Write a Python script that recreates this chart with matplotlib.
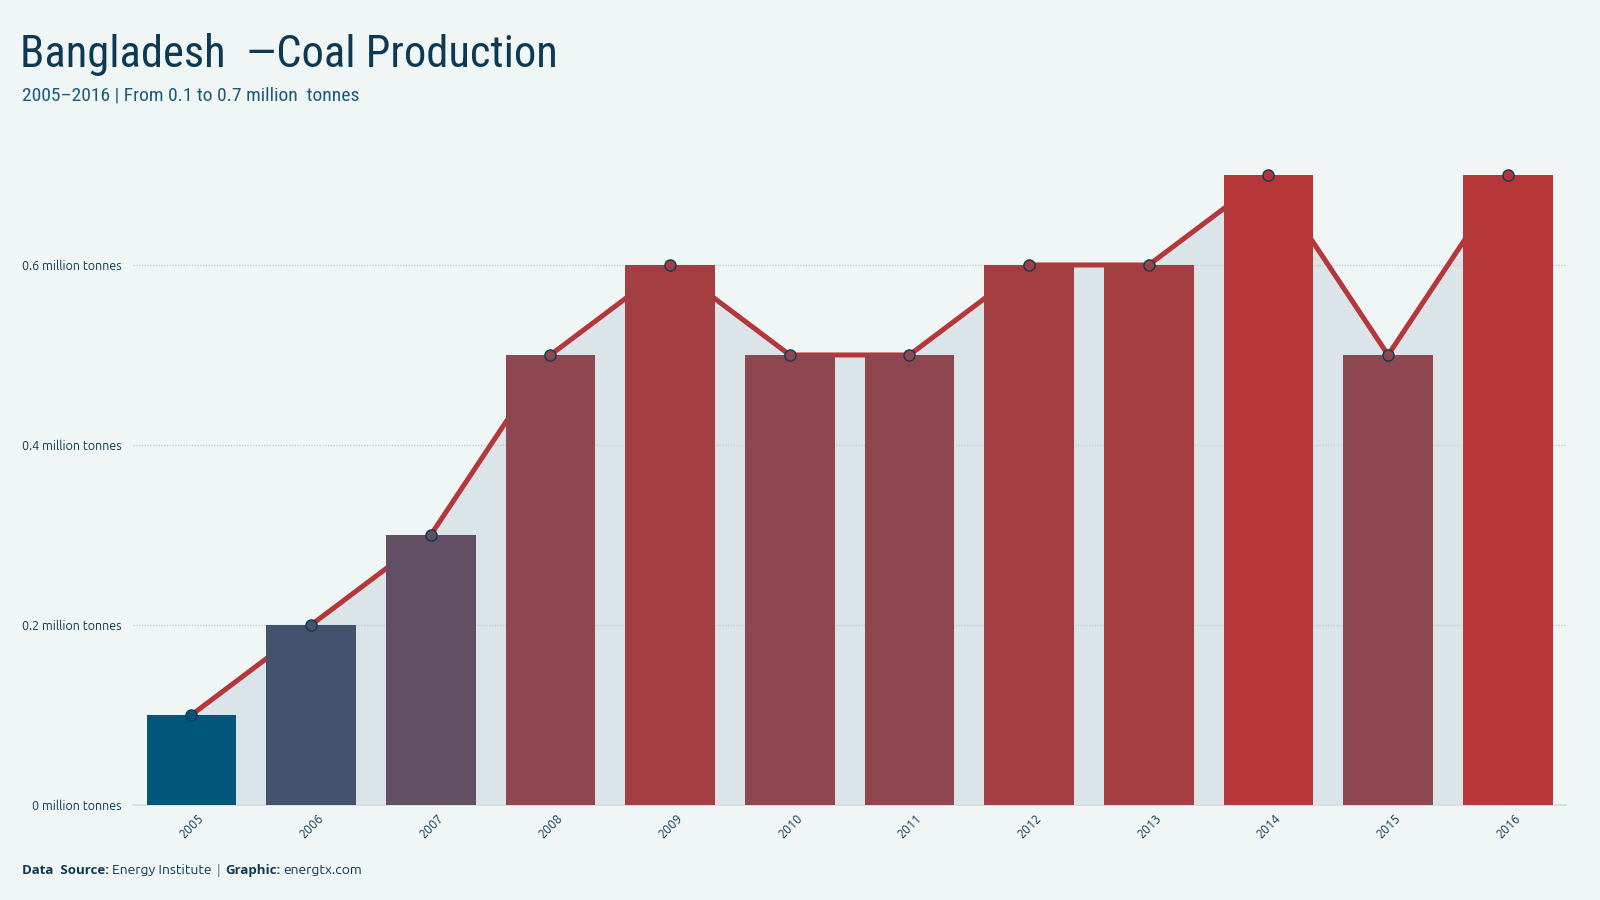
import numpy as np
import matplotlib
import matplotlib.pyplot as plt
from matplotlib.colors import LinearSegmentedColormap, Normalize

years = ['2005', '2006', '2007', '2008', '2009', '2010',
         '2011', '2012', '2013', '2014', '2015', '2016']
production = [0.1, 0.2, 0.3, 0.5, 0.6, 0.5, 0.5, 0.6, 0.6, 0.7, 0.5, 0.7]
yticks = [0, 0.2, 0.4, 0.6]
ytick_labels = ['0 million tonnes', '0.2 million tonnes',
                '0.4 million tonnes', '0.6 million tonnes']

bg = '#f0f6f6'
navy = '#0d3a52'
red = '#b5373a'

body = ['Ubuntu', 'Open Sans', 'DejaVu Sans']
bold = ['Open Sans', 'DejaVu Sans']
cond = ['Ubuntu Condensed', 'Roboto Condensed', 'Liberation Sans Narrow', 'DejaVu Sans']
plt.rcParams['font.family'] = body

# colour ramp (blue -> red), by value
cmap = LinearSegmentedColormap.from_list('bd', [
    (0.0, '#01567a'), (1 / 6, '#44536d'), (2 / 6, '#634f63'),
    (4 / 6, '#8f474f'), (5 / 6, '#a33f43'), (1.0, red)])
norm = Normalize(vmin=min(production), vmax=max(production))
colors = [cmap(norm(v)) for v in production]

fig = plt.figure(figsize=(16, 9), dpi=100, facecolor=bg)
ax = fig.add_axes([0.083, 0.1056, 0.896, 0.75])
ax.set_facecolor(bg)

x = np.arange(len(years))
ax.fill_between(x, production, 0, color='#dae4e9', zorder=1, lw=0)
ax.plot(x, production, color=red, lw=3.6, zorder=2, solid_capstyle='butt')
ax.bar(x, production, width=0.75, color=colors, zorder=3)
for xi, v, c in zip(x, production, colors):
    ax.plot(xi, v, 'o', ms=8, mfc=c, mec=navy, mew=1, zorder=4)

ax.set_xlim(-0.49, 11.49)
ax.set_ylim(0, 0.75)
ax.set_yticks(yticks)
ax.set_yticklabels(ytick_labels, fontsize=9, color=navy)
ax.set_xticks(x)
ax.set_xticklabels(years, fontsize=9, color=navy, rotation=45)
ax.tick_params(axis='y', length=0, pad=8)
ax.tick_params(axis='x', length=0, pad=5)
ax.grid(axis='y', linestyle=(0, (1, 1)), color='#c3cfd5', lw=1, zorder=1.5)
ax.grid(axis='x', visible=False)
for side in ['top', 'right', 'left']:
    ax.spines[side].set_visible(False)
ax.spines['bottom'].set_color('#d3dde2')
ax.spines['bottom'].set_linewidth(1.2)

fig.text(0.0125, 0.925, 'Bangladesh  \u2014Coal Production', fontsize=32,
         color=navy, family=cond, fontstretch='condensed')
fig.text(0.0135, 0.888, '2005\u20132016 | From 0.1 to 0.7 million  tonnes',
         fontsize=14, color='#1a5a7a', family=cond, fontstretch='condensed')

# footer, pieces placed one after another
fy = 0.029
t = fig.text(0.0135, fy, 'Data  Source:', fontsize=9.5, color=navy,
             weight='bold', family=bold)
fig.canvas.draw()
r = fig.canvas.get_renderer()
def nxt(txt, s, size=10, gap=0.002, **kw):
    bb = txt.get_window_extent(r)
    xx = bb.x1 / fig.bbox.width + gap
    return fig.text(xx, fy, s, fontsize=size, **kw)
t = nxt(t, 'Energy Institute', color=navy)
t = nxt(t, '|', color='#7a96a8', weight='bold', family=bold, size=9.5)
t = nxt(t, 'Graphic:', color=navy, weight='bold', family=bold, size=9.5)
t = nxt(t, 'energtx.com', color=navy)

fig.savefig('out.png', dpi=100, facecolor=bg)
